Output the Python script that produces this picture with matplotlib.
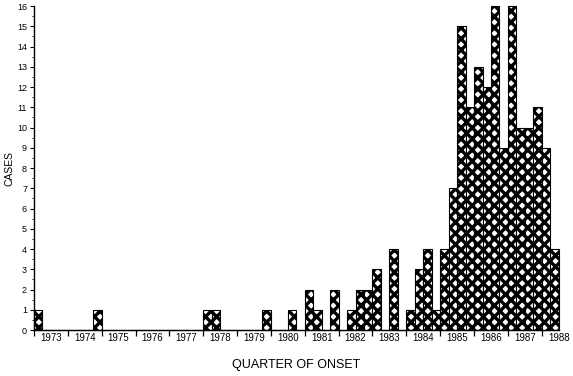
import matplotlib
matplotlib.use("Agg")
import matplotlib.pyplot as plt
from matplotlib.ticker import FixedLocator, NullFormatter, FixedFormatter

plt.rcParams['font.family'] = ['Liberation Sans', 'DejaVu Sans']
plt.rcParams['hatch.linewidth'] = 2.4

# Cases per quarter, 1973 Q1 .. 1988 Q2
cases = [1, 0, 0, 0,      # 1973
         0, 0, 0, 1,      # 1974
         0, 0, 0, 0,      # 1975
         0, 0, 0, 0,      # 1976
         0, 0, 0, 0,      # 1977
         1, 1, 0, 0,      # 1978
         0, 0, 0, 1,      # 1979
         0, 0, 1, 0,      # 1980
         2, 1, 0, 2,      # 1981
         0, 1, 2, 2,      # 1982
         3, 0, 4, 0,      # 1983
         1, 3, 4, 1,      # 1984
         4, 7, 15, 11,    # 1985
         13, 12, 16, 9,   # 1986
         16, 10, 10, 11,  # 1987
         9, 4]            # 1988
start_year = 1973
years = list(range(1973, 1989))
year_labels = [str(y) for y in years]
yticks = list(range(0, 17))

quarters = [start_year + i / 4 for i in range(len(cases))]

fig = plt.figure(figsize=(5.73, 3.76), dpi=100)
ax = fig.add_axes([0.0593, 0.1223, 0.9157, 0.8617])

ax.bar(quarters, cases, width=0.25, align='edge', facecolor='white',
       edgecolor='black', hatch='xxx', linewidth=0.8, clip_on=False)

ax.set_xlim(1973, 1988.5)
ax.set_ylim(0, 16)

for s in ['top', 'right']:
    ax.spines[s].set_visible(False)
ax.spines['left'].set_linewidth(1.0)
ax.spines['bottom'].set_linewidth(1.0)

# x: major ticks at year boundaries (no labels), minor at year centers (labels)
ax.xaxis.set_major_locator(FixedLocator(years))
ax.xaxis.set_major_formatter(NullFormatter())
ax.xaxis.set_minor_locator(FixedLocator([y + 0.5 for y in years]))
ax.xaxis.set_minor_formatter(FixedFormatter(year_labels))
ax.tick_params(axis='x', which='major', direction='out', length=4, width=0.9)
ax.tick_params(axis='x', which='minor', length=0, pad=2, labelsize=7)

ax.set_yticks(yticks)
ax.set_yticks([v + 0.5 for v in yticks[:-1]], minor=True)
ax.tick_params(axis='y', which='major', direction='out', length=3, width=0.8,
               pad=2, labelsize=6.5)
ax.tick_params(axis='y', which='minor', direction='out', length=1.5, width=0.6)

ax.set_ylabel('CASES', fontsize=7.5, labelpad=2)
ax.set_xlabel('QUARTER OF ONSET', fontsize=9, labelpad=12)

fig.savefig('out.png', dpi=100)
